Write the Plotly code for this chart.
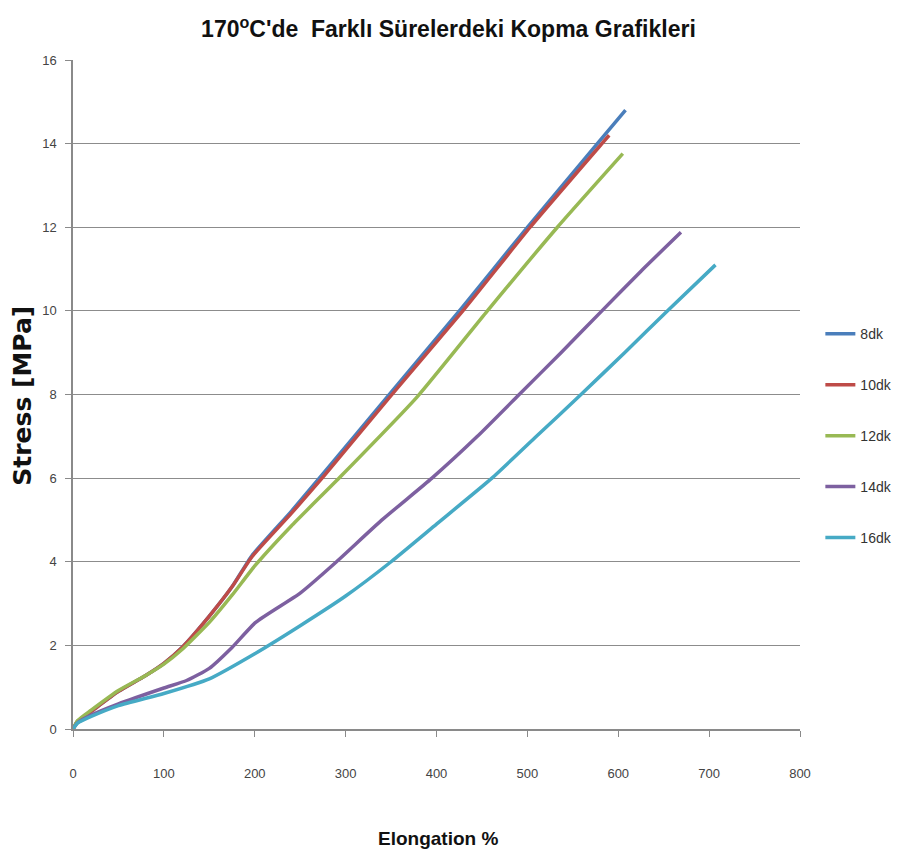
import plotly.graph_objects as go

# Elongation (%) and Stress (MPa)
x_8dk = [0, 5, 20, 50, 80, 100, 120, 150, 175, 197, 240, 275, 350, 427, 500, 577, 608]
y_8dk = [0, 0.18, 0.42, 0.9, 1.28, 1.57, 1.95, 2.7, 3.4, 4.15, 5.2, 6.1, 8.05, 10.05, 12.0, 14.0, 14.8]

x_10dk = [0, 5, 20, 50, 80, 100, 120, 150, 175, 197, 240, 276, 351, 429, 503, 582, 590]
y_10dk = [0, 0.18, 0.42, 0.9, 1.28, 1.57, 1.95, 2.7, 3.4, 4.12, 5.15, 6.05, 8.0, 10.0, 12.0, 14.0, 14.2]

x_12dk = [0, 5, 20, 50, 80, 100, 120, 150, 175, 200, 240, 295, 379, 456, 533, 605]
y_12dk = [0, 0.2, 0.45, 0.92, 1.28, 1.55, 1.9, 2.55, 3.2, 3.9, 4.85, 6.05, 7.95, 10.0, 12.0, 13.76]

x_14dk = [0, 5, 20, 50, 100, 125, 150, 175, 201, 250, 290, 340, 395, 445, 491, 537, 582, 625, 669]
y_14dk = [0, 0.15, 0.33, 0.6, 0.98, 1.16, 1.45, 1.95, 2.55, 3.25, 4.0, 5.0, 6.0, 7.0, 8.0, 9.0, 10.0, 10.95, 11.88]

x_16dk = [0, 5, 20, 50, 100, 150, 200, 250, 300, 350, 400, 461, 510, 559, 607, 654, 707]
y_16dk = [0, 0.14, 0.3, 0.56, 0.85, 1.2, 1.8, 2.47, 3.18, 4.0, 4.9, 6.0, 7.0, 8.0, 9.0, 10.0, 11.1]

series_names = ["8dk", "10dk", "12dk", "14dk", "16dk"]
series_x = [x_8dk, x_10dk, x_12dk, x_14dk, x_16dk]
series_y = [y_8dk, y_10dk, y_12dk, y_14dk, y_16dk]
colors = ["#4a7ebb", "#be4b48", "#98b954", "#7d60a0", "#46aac5"]

x_ticks = [0, 100, 200, 300, 400, 500, 600, 700, 800]
y_ticks = [0, 2, 4, 6, 8, 10, 12, 14, 16]

narrow = "Liberation Sans Narrow, Arial Narrow, Liberation Sans, sans-serif"

fig = go.Figure()
for name, xs, ys, c in zip(series_names, series_x, series_y, colors):
    fig.add_trace(go.Scatter(
        x=xs, y=ys, name=name, mode="lines", legendgroup=name,
        line=dict(color=c, width=3.5, shape="spline", smoothing=0.5),
    ))

fig.update_layout(
    width=888, height=848,
    margin=dict(l=65, r=96, t=52, b=127, autoexpand=False),
    paper_bgcolor="white", plot_bgcolor="white",
    title=dict(
        text="<b>170<sup>o</sup>C'de  Farklı Sürelerdeki Kopma Grafikleri</b>",
        x=0.496, xanchor="center", y=0.975, yanchor="middle",
        font=dict(family=narrow, size=23, color="#111111"),
    ),
    legend=dict(
        x=1.028, xanchor="left", y=0.614, yanchor="top",
        font=dict(family=narrow, size=14, color="#333333"),
        tracegroupgap=29.7, bgcolor="rgba(0,0,0,0)",
    ),
    showlegend=True,
    annotations=[
        dict(text="<b>Stress [MPa]</b>", xref="paper", yref="paper",
             x=-0.069, y=0.498, xanchor="center", yanchor="middle", textangle=-90,
             showarrow=False, font=dict(family="DejaVu Sans", size=25, color="#111111")),
        dict(text="<b>Elongation %</b>", xref="paper", yref="paper",
             x=0.502, y=-0.163, xanchor="center", yanchor="middle",
             showarrow=False, font=dict(family=narrow, size=19, color="#111111")),
    ],
)

fig.update_xaxes(
    range=[0, 800], tickvals=x_ticks, ticktext=[str(v) for v in x_ticks],
    showgrid=False, zeroline=False,
    showline=True, linecolor="#8a8a8a", linewidth=1.5,
    ticks="outside", ticklen=6, tickcolor="#8a8a8a", tickwidth=1,
    ticklabelstandoff=26,
    tickfont=dict(family=narrow, size=13, color="#444444"),
)
fig.update_yaxes(
    range=[0, 16], tickvals=y_ticks, ticktext=[str(v) for v in y_ticks],
    showgrid=True, gridcolor="#8c8c8c", gridwidth=1.3, zeroline=False,
    showline=True, linecolor="#8a8a8a", linewidth=1.5,
    ticks="outside", ticklen=6, tickcolor="#8a8a8a", tickwidth=1,
    ticklabelstandoff=6,
    tickfont=dict(family=narrow, size=13, color="#444444"),
)

fig.write_html("out.html")
